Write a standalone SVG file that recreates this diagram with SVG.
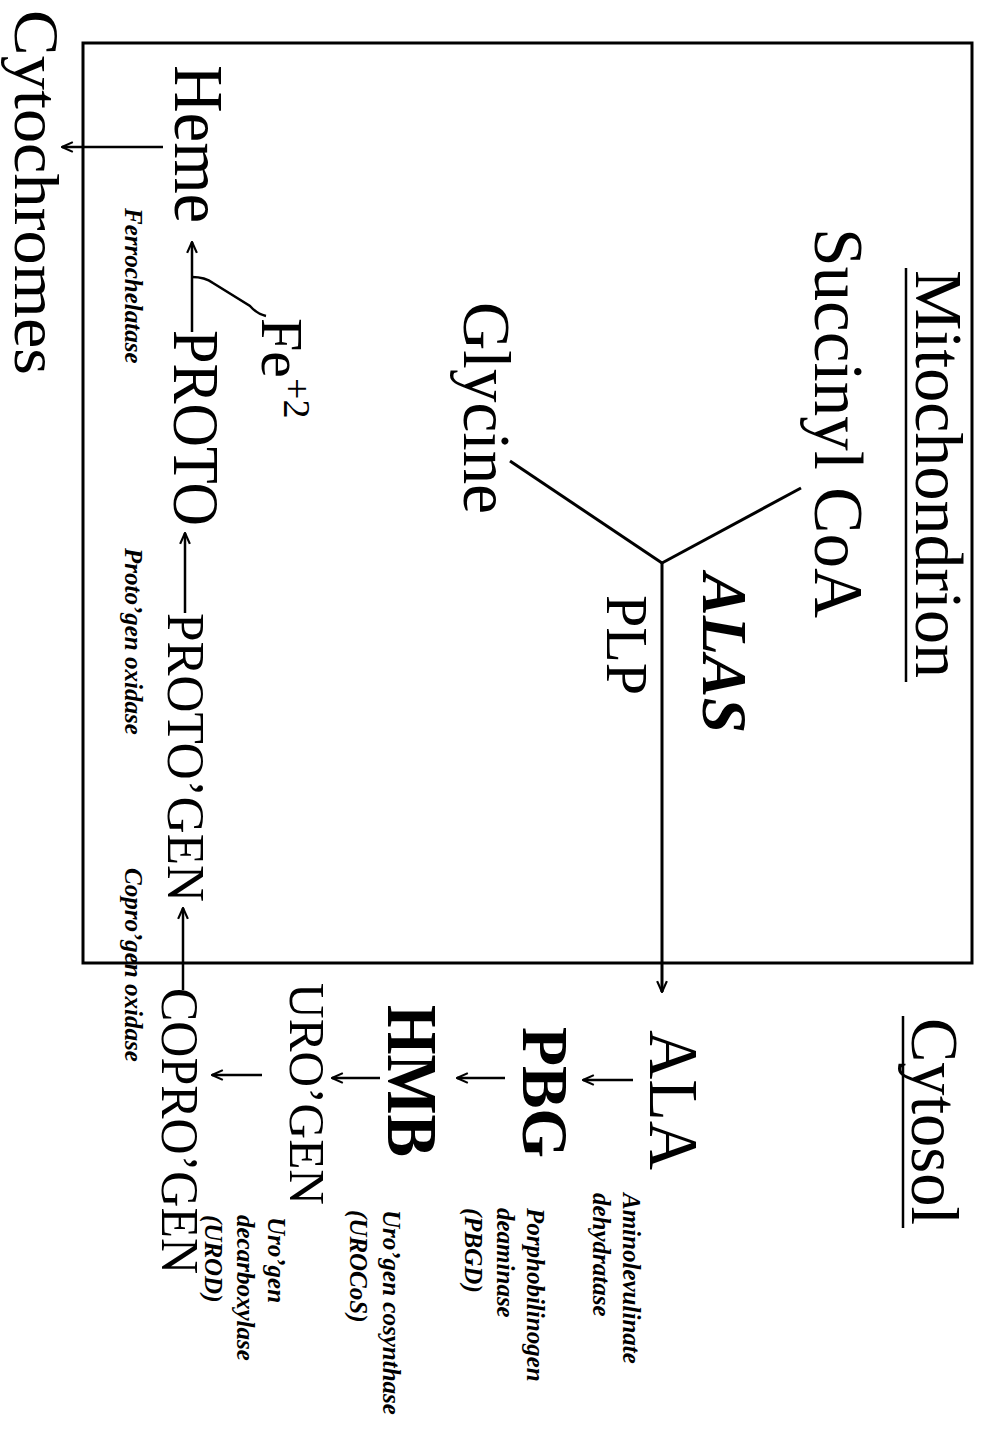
<svg xmlns="http://www.w3.org/2000/svg" width="984" height="1432" viewBox="0 0 984 1432">
<style>
text{font-family:"Liberation Serif","Times New Roman",serif;fill:#000}
.bi{font-weight:bold;font-style:italic}
.b{font-weight:bold}
.enz{font-weight:bold;font-style:italic;font-size:25px}
.ln{stroke:#000;stroke-width:3;fill:none}
.ar{stroke:#000;stroke-width:2.5;fill:none;marker-end:url(#ah)}
</style>
<defs>
<marker id="ah" viewBox="0 0 12 12" refX="11" refY="6" markerWidth="13" markerHeight="13" markerUnits="userSpaceOnUse" orient="auto">
<path d="M1,1.5 L11,6 L1,10.5" fill="none" stroke="#000" stroke-width="2"/>
</marker>
</defs>
<g id="compartment">
<rect x="83" y="43" width="889" height="920" fill="none" stroke="#000" stroke-width="3"/>
</g>
<g id="mitochondrion-label">
<text transform="translate(916,270) rotate(90)" font-size="68" textLength="408" lengthAdjust="spacingAndGlyphs">Mitochondrion</text>
<line x1="906" y1="268" x2="906" y2="682" stroke="#000" stroke-width="2.5"/>
</g>
<g id="cytosol-label">
<text transform="translate(912,1018) rotate(90)" font-size="68" textLength="207" lengthAdjust="spacingAndGlyphs">Cytosol</text>
<line x1="903" y1="1016" x2="903" y2="1228" stroke="#000" stroke-width="2.5"/>
</g>
<g id="succinylcoa"><text transform="translate(815,228) rotate(90)" font-size="70" textLength="390" lengthAdjust="spacingAndGlyphs">Succinyl CoA</text></g>
<g id="glycine"><text transform="translate(464,302) rotate(90)" font-size="68" textLength="212" lengthAdjust="spacingAndGlyphs">Glycine</text></g>
<g id="alas"><text class="bi" transform="translate(703,573) rotate(90)" font-size="63" textLength="160" lengthAdjust="spacingAndGlyphs">ALAS</text></g>
<g id="plp"><text transform="translate(607,595) rotate(90)" font-size="60" textLength="100" lengthAdjust="spacingAndGlyphs">PLP</text></g>
<g id="ala"><text transform="translate(650,1030) rotate(90)" font-size="70" textLength="140" lengthAdjust="spacingAndGlyphs">ALA</text></g>
<g id="pbg"><text class="b" transform="translate(523,1027) rotate(90)" font-size="66" textLength="131" lengthAdjust="spacingAndGlyphs">PBG</text></g>
<g id="hmb"><text class="b" transform="translate(388,1005) rotate(90)" font-size="72" textLength="152" lengthAdjust="spacingAndGlyphs">HMB</text></g>
<g id="urogen"><text transform="translate(290,983) rotate(90)" font-size="50" textLength="222" lengthAdjust="spacingAndGlyphs">URO’GEN</text></g>
<g id="coprogen"><text transform="translate(162,988) rotate(90)" font-size="52" textLength="286" lengthAdjust="spacingAndGlyphs">COPRO’GEN</text></g>
<g id="protogen"><text transform="translate(168,613) rotate(90)" font-size="52" textLength="289" lengthAdjust="spacingAndGlyphs">PROTO’GEN</text></g>
<g id="proto"><text transform="translate(174,330) rotate(90)" font-size="66" textLength="196" lengthAdjust="spacingAndGlyphs">PROTO</text></g>
<g id="heme"><text transform="translate(175,65) rotate(90)" font-size="70" textLength="158" lengthAdjust="spacingAndGlyphs">Heme</text></g>
<g id="fe"><text transform="translate(262,318) rotate(90)" font-size="60">Fe<tspan font-size="38" dy="-22">+2</tspan></text></g>
<g id="cytochromes"><text transform="translate(15,10) rotate(90)" font-size="64" textLength="365" lengthAdjust="spacingAndGlyphs">Cytochromes</text></g>
<g id="enzymes">
<text class="enz" transform="translate(623,1193) rotate(90)">Aminolevulinate</text>
<text class="enz" transform="translate(593,1193) rotate(90)">dehydratase</text>
<text class="enz" transform="translate(527,1208) rotate(90)">Porphobilinogen</text>
<text class="enz" transform="translate(497,1208) rotate(90)">deaminase</text>
<text class="enz" transform="translate(465,1208) rotate(90)">(PBGD)</text>
<text class="enz" transform="translate(383,1210) rotate(90)">Uro’gen cosynthase</text>
<text class="enz" transform="translate(350,1210) rotate(90)">(UROCoS)</text>
<text class="enz" transform="translate(268,1217) rotate(90)">Uro’gen</text>
<text class="enz" transform="translate(237,1215) rotate(90)">decarboxylase</text>
<text class="enz" transform="translate(205,1215) rotate(90)">(UROD)</text>
<text class="enz" transform="translate(125,208) rotate(90)">Ferrochelatase</text>
<text class="enz" transform="translate(125,548) rotate(90)">Proto’gen oxidase</text>
<text class="enz" transform="translate(125,868) rotate(90)">Copro’gen oxidase</text>
</g>
<g id="connectors">
<line class="ln" x1="801" y1="488" x2="662" y2="563"/>
<line class="ln" x1="510" y1="461" x2="662" y2="563"/>
<line class="ar" x1="662" y1="562" x2="662" y2="992" style="stroke-width:3"/>
<line class="ar" x1="633" y1="1080" x2="583" y2="1080"/>
<line class="ar" x1="505" y1="1078" x2="457" y2="1078"/>
<line class="ar" x1="380" y1="1078" x2="332" y2="1078"/>
<line class="ar" x1="262" y1="1075" x2="212" y2="1075"/>
<line class="ar" x1="183" y1="990" x2="183" y2="908"/>
<line class="ar" x1="185" y1="613" x2="185" y2="533"/>
<line class="ar" x1="192" y1="332" x2="192" y2="242"/>
<line class="ar" x1="163" y1="147" x2="62" y2="147"/>
<path class="ln" d="M266,316 Q257,314 250,306 L213,283 Q205,277 192,277" style="stroke-width:2.5"/>
</g>
</svg>
